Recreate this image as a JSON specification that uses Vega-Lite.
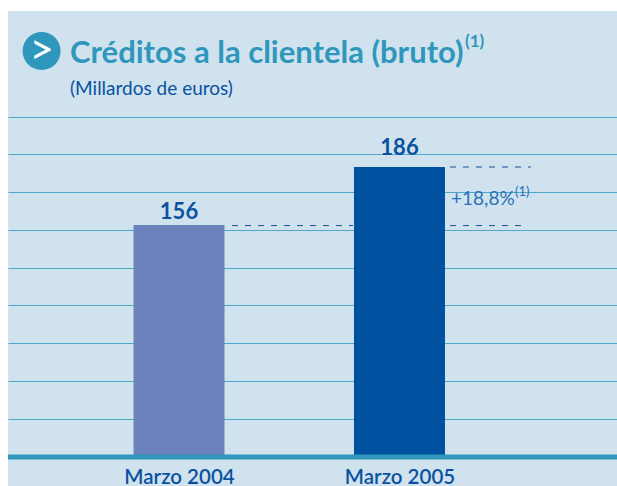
{"$schema":"https://vega.github.io/schema/vega-lite/v6.json","width":609,"height":475,"autosize":{"type":"none"},"padding":{"left":8,"top":11,"right":0,"bottom":0},"background":"#ffffff","view":{"fill":"#cfe2ee","stroke":null},
"datasets":{"nota":[{"n":1}]},
"layer":[
{"data":{"values":[{"periodo":2004,"valor":156,"serie":"Marzo 2004"},{"periodo":2005,"valor":186,"serie":"Marzo 2005"}]},
"mark":{"type":"bar","size":91,"orient":"vertical"},
"encoding":{
"x":{"field":"periodo","type":"quantitative","scale":{"domain":[2003.2245,2005.9864],"nice":false,"zero":false,"padding":0},"axis":{"values":[2004,2005],"title":null,"grid":false,"ticks":false,"domain":false,"labelExpr":"'Marzo ' + datum.value","offset":-19,"labelPadding":0,"labelFont":"Lato","labelFontSize":20.5,"labelFontWeight":600,"labelColor":"#0a52a0","labelBaseline":"top","labelFlush":false,"labelOverlap":false}},
"y":{"field":"valor","type":"quantitative","scale":{"domain":[21,266.7],"nice":false,"zero":false},"axis":{"values":[55.7,75.3,95,114.6,133.8,153.4,173.1,192.5,211.9],"title":null,"labels":false,"ticks":false,"domain":false,"grid":true,"gridColor":"#4ea6c8","gridWidth":1.2,"gridOpacity":1,"zindex":0}},
"y2":{"datum":36},
"color":{"field":"serie","type":"nominal","legend":null,"scale":{"domain":["Marzo 2004","Marzo 2005"],"range":["#6b82bd","#0052a0"]}}}},
{"data":{"name":"nota"},"mark":{"type":"rule","color":"#2e97bb","strokeWidth":5},"encoding":{"y":{"datum":36,"type":"quantitative","scale":{"domain":[21,266.7],"nice":false,"zero":false}}}},
{"data":{"name":"nota"},"mark":{"type":"rule","color":"#124f93","strokeWidth":1,"strokeDash":[6,7]},"encoding":{"x":{"datum":2004.2404,"type":"quantitative","scale":{"domain":[2003.2245,2005.9864],"nice":false,"zero":false,"padding":0}},"x2":{"datum":2004.79},"y":{"datum":155.7,"type":"quantitative","scale":{"domain":[21,266.7],"nice":false,"zero":false}}}},
{"data":{"name":"nota"},"mark":{"type":"rule","color":"#124f93","strokeWidth":1,"strokeDash":[6,7]},"encoding":{"x":{"datum":2005.229,"type":"quantitative","scale":{"domain":[2003.2245,2005.9864],"nice":false,"zero":false,"padding":0}},"x2":{"datum":2005.578},"y":{"datum":155.7,"type":"quantitative","scale":{"domain":[21,266.7],"nice":false,"zero":false}}}},
{"data":{"name":"nota"},"mark":{"type":"rule","color":"#124f93","strokeWidth":1,"strokeDash":[6,7]},"encoding":{"x":{"datum":2005.229,"type":"quantitative","scale":{"domain":[2003.2245,2005.9864],"nice":false,"zero":false,"padding":0}},"x2":{"datum":2005.596},"y":{"datum":186,"type":"quantitative","scale":{"domain":[21,266.7],"nice":false,"zero":false}}}},
{"data":{"name":"nota"},"mark":{"type":"point","shape":"circle","filled":true,"size":1444,"color":"#2e97bb","opacity":1},"encoding":{"x":{"datum":2003.3769,"type":"quantitative","scale":{"domain":[2003.2245,2005.9864],"nice":false,"zero":false,"padding":0}},"y":{"datum":246,"type":"quantitative","scale":{"domain":[21,266.7],"nice":false,"zero":false}}}},
{"data":{"name":"nota"},"mark":{"type":"text","text":">","font":"Lato","fontSize":42,"fontWeight":"normal","color":"#ffffff","align":"center","baseline":"middle"},"encoding":{"x":{"datum":2003.3769,"type":"quantitative","scale":{"domain":[2003.2245,2005.9864],"nice":false,"zero":false,"padding":0}},"y":{"datum":246,"type":"quantitative","scale":{"domain":[21,266.7],"nice":false,"zero":false}}}},
{"data":{"name":"nota"},"mark":{"type":"text","text":"Créditos a la clientela (bruto)","font":"Lato","fontSize":31,"fontWeight":"bold","color":"#2f97bb","align":"left","baseline":"alphabetic"},"encoding":{"x":{"datum":2003.5057,"type":"quantitative","scale":{"domain":[2003.2245,2005.9864],"nice":false,"zero":false,"padding":0}},"y":{"datum":239.8,"type":"quantitative","scale":{"domain":[21,266.7],"nice":false,"zero":false}}}},
{"data":{"name":"nota"},"mark":{"type":"text","text":"(1)","font":"Lato","fontSize":17,"fontWeight":"bold","color":"#2f97bb","align":"left","baseline":"alphabetic"},"encoding":{"x":{"datum":2005.297,"type":"quantitative","scale":{"domain":[2003.2245,2005.9864],"nice":false,"zero":false,"padding":0}},"y":{"datum":248.1,"type":"quantitative","scale":{"domain":[21,266.7],"nice":false,"zero":false}}}},
{"data":{"name":"nota"},"mark":{"type":"text","text":"(Millardos de euros)","font":"Lato","fontSize":19,"color":"#0a52a0","align":"left","baseline":"alphabetic"},"encoding":{"x":{"datum":2003.5057,"type":"quantitative","scale":{"domain":[2003.2245,2005.9864],"nice":false,"zero":false,"padding":0}},"y":{"datum":223.3,"type":"quantitative","scale":{"domain":[21,266.7],"nice":false,"zero":false}}}},
{"data":{"name":"nota"},"mark":{"type":"text","text":"156","font":"Lato","fontSize":22,"fontWeight":"bold","color":"#0a52a0","align":"center","baseline":"alphabetic"},"encoding":{"x":{"datum":2004,"type":"quantitative","scale":{"domain":[2003.2245,2005.9864],"nice":false,"zero":false,"padding":0}},"y":{"datum":159.1,"type":"quantitative","scale":{"domain":[21,266.7],"nice":false,"zero":false}}}},
{"data":{"name":"nota"},"mark":{"type":"text","text":"186","font":"Lato","fontSize":22,"fontWeight":"bold","color":"#0a52a0","align":"center","baseline":"alphabetic"},"encoding":{"x":{"datum":2005,"type":"quantitative","scale":{"domain":[2003.2245,2005.9864],"nice":false,"zero":false,"padding":0}},"y":{"datum":192.2,"type":"quantitative","scale":{"domain":[21,266.7],"nice":false,"zero":false}}}},
{"data":{"name":"nota"},"mark":{"type":"text","text":"+18,8%","font":"Lato","fontSize":19,"color":"#2a73b5","align":"left","baseline":"alphabetic"},"encoding":{"x":{"datum":2005.2336,"type":"quantitative","scale":{"domain":[2003.2245,2005.9864],"nice":false,"zero":false,"padding":0}},"y":{"datum":166.4,"type":"quantitative","scale":{"domain":[21,266.7],"nice":false,"zero":false}}}},
{"data":{"name":"nota"},"mark":{"type":"text","text":"(1)","font":"Lato","fontSize":13,"color":"#2a73b5","align":"left","baseline":"alphabetic"},"encoding":{"x":{"datum":2005.524,"type":"quantitative","scale":{"domain":[2003.2245,2005.9864],"nice":false,"zero":false,"padding":0}},"y":{"datum":171,"type":"quantitative","scale":{"domain":[21,266.7],"nice":false,"zero":false}}}}
]}
